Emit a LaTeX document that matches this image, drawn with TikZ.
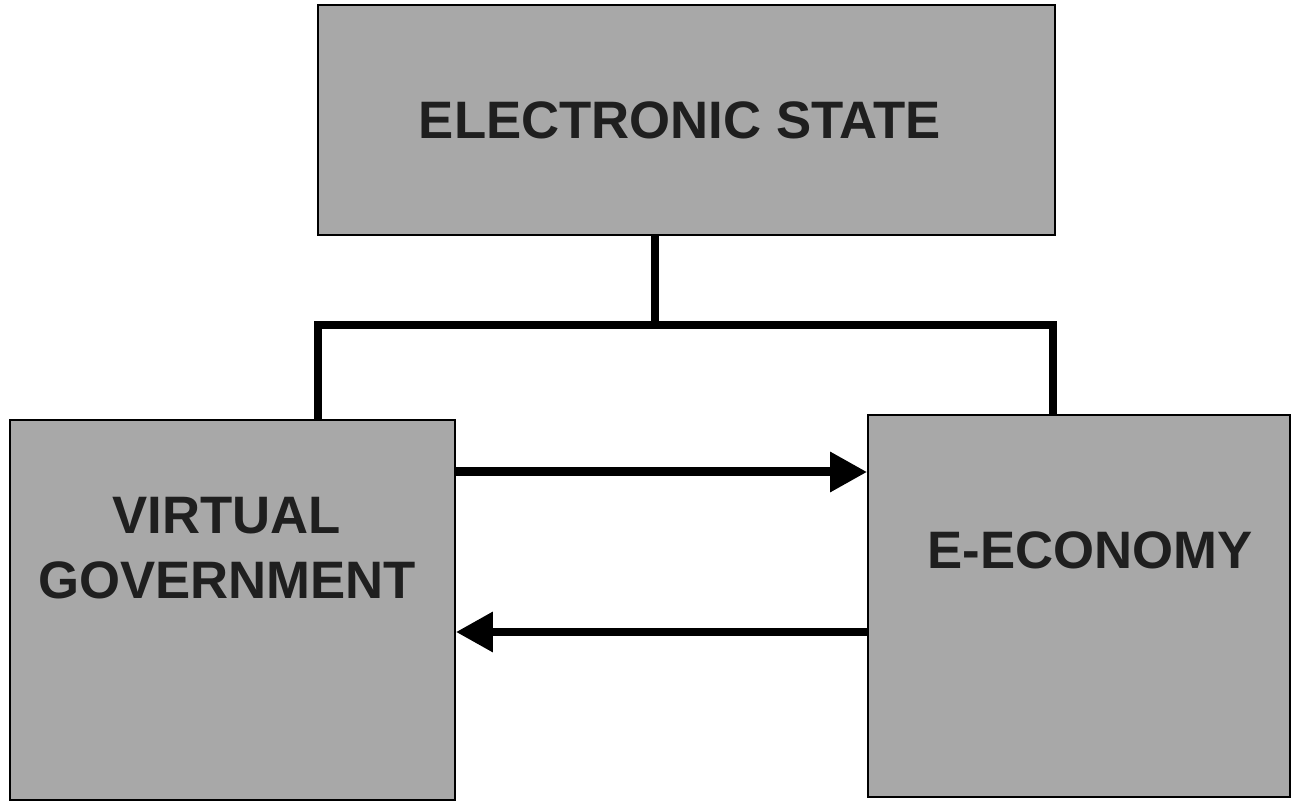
\documentclass[tikz,border=0pt]{standalone}
\usepackage{fontspec}
\setmainfont{Liberation Sans}
\usetikzlibrary{positioning,arrows.meta,calc}

\begin{document}
\begin{tikzpicture}[
  x=0.02cm, y=0.02cm,
  box/.style={draw, line width=1pt, fill=black!34, inner sep=0pt},
  lbl/.style={align=center, font=\bfseries\fontsize{30}{37}\selectfont, text=black!88},
  bus/.style={line width=0.17cm, line join=miter},
  arr/.style={-{Triangle[length=0.74cm, width=0.76cm]}, line width=0.18cm}
]
\useasboundingbox (0,0) rectangle (1293,804);
% boxes
\node[box, minimum width=14.74cm, minimum height=4.6cm] (es) at (686.5,684) {};
\node[box, minimum width=8.9cm, minimum height=7.6cm] (vg) at (232.5,194) {};
\node[box, minimum width=8.44cm, minimum height=7.64cm] (ee) at (1079,198) {};
\node[lbl] (estext) at (680,684) {ELECTRONIC STATE};
\node[lbl] (vgtext) at (227,256) {VIRTUAL\\GOVERNMENT};
\node[lbl] (eetext) at (1090,254) {E-ECONOMY};
% tree connector
\coordinate (jn) at (655,479);
\coordinate (jl) at (318,479);
\coordinate (jr) at (1053,479);
\draw[bus] (es.south -| jn) -- (jn);
\draw[bus] (jl |- vg.north) -- (jl) -- (jr) -- (jr |- ee.north);
% exchange arrows
\draw[arr] (vg.east |- 0,332) -- (ee.west |- 0,332);
\draw[arr] (ee.west |- 0,172) -- (vg.east |- 0,172);
\end{tikzpicture}
\end{document}
